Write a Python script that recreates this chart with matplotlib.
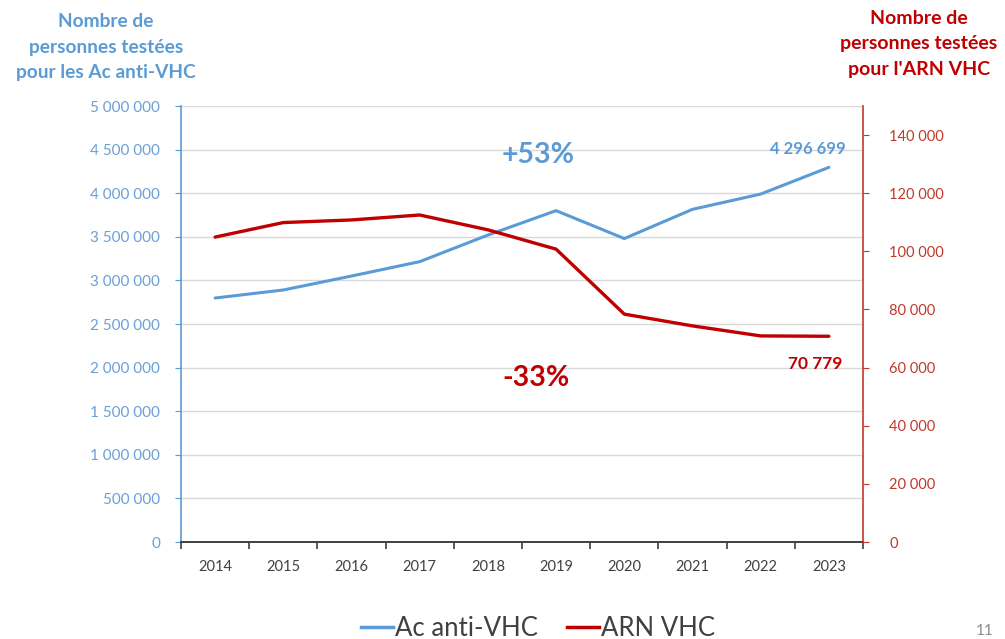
import matplotlib
matplotlib.use("Agg")
import matplotlib.pyplot as plt
from matplotlib.ticker import FuncFormatter, MultipleLocator, FixedLocator
from matplotlib.lines import Line2D

plt.rcParams['font.family'] = ['Lato', 'DejaVu Sans']

years = ["2014", "2015", "2016", "2017", "2018", "2019", "2020", "2021", "2022", "2023"]
ac_anti_vhc = [2798000, 2890000, 3050000, 3215000, 3520000, 3800000, 3480000, 3815000, 3990000, 4296699]
arn_vhc = [104900, 109900, 110800, 112500, 107400, 100750, 78400, 74350, 70900, 70779]

BLUE = "#5B9BD5"
BLUE_TXT = "#6A9FD8"
RED = "#C00000"
RED_TXT = "#C0392B"

fig = plt.figure(figsize=(10.05, 6.39), dpi=100)
ax = fig.add_axes([181/1005, 1-542/639, (863-181)/1005, (542-106)/639])
ax2 = ax.twinx()

x = list(range(len(years)))
ax.plot(x, ac_anti_vhc, color=BLUE, lw=2.2, solid_capstyle='round', zorder=3)
ax2.plot(x, arn_vhc, color=RED, lw=2.4, solid_capstyle='round', zorder=3)

ax.set_xlim(-0.5, len(years) - 0.5)
ax.set_ylim(0, 5000000)
ax2.set_ylim(0, 150000)

def spaced(v, pos):
    return f"{int(round(v)):,}".replace(",", " ")

ax.yaxis.set_major_locator(MultipleLocator(500000))
ax.yaxis.set_major_formatter(FuncFormatter(spaced))
ax2.yaxis.set_major_locator(FixedLocator([0, 20000, 40000, 60000, 80000, 100000, 120000, 140000]))
ax2.yaxis.set_major_formatter(FuncFormatter(spaced))

ax.set_xticks(x)
ax.set_xticklabels(years)
ax.set_xticks([i + 0.5 for i in range(-1, len(years))], minor=True)
ax.tick_params(axis='x', which='major', length=0, pad=13, labelsize=10.5, labelcolor="#404040")
ax.tick_params(axis='x', which='minor', length=5, width=1.2, color="#404040", direction='out')

ax.tick_params(axis='y', length=4, color=BLUE, labelcolor=BLUE_TXT, labelsize=11, pad=11)
ax2.tick_params(axis='y', length=4, color=RED_TXT, labelcolor=RED_TXT, labelsize=10.5, pad=15)

ax.grid(axis='y', color="#D9D9D9", lw=1.0, zorder=0)
ax.set_axisbelow(True)

ax.spines['top'].set_visible(False)
ax2.spines['top'].set_visible(False)
ax.spines['right'].set_visible(False)
ax2.spines['left'].set_visible(False)
ax2.spines['bottom'].set_visible(False)
ax.spines['left'].set_color(BLUE)
ax.spines['left'].set_linewidth(1.2)
ax2.spines['right'].set_color(RED_TXT)
ax2.spines['right'].set_linewidth(1.2)
ax.spines['bottom'].set_color("#404040")
ax.spines['bottom'].set_linewidth(1.4)

# annotations
ax.text(4.74, 4440000, "+53%", color=BLUE, fontsize=20.5, fontweight='bold',
        ha='center', va='center')
ax.text(9 - 0.31, 4296699 + 205000, spaced(4296699, None), color=BLUE, fontsize=12,
        fontweight='bold', ha='center', va='center')
ax2.text(4.70, 56300, "-33%", color=RED, fontsize=20.5, fontweight='bold',
         ha='center', va='center')
ax2.text(9 - 0.20, 70779 - 9600, spaced(70779, None), color=RED, fontsize=12.5,
         fontweight='bold', ha='center', va='center')

# axis titles
fig.text(106/1005, 1-47/639, "Nombre de\npersonnes testées\npour les Ac anti-VHC", color=BLUE,
         fontsize=13.8, fontweight='bold', ha='center', va='center', linespacing=1.62)
fig.text(919/1005, 1-44/639, "Nombre de\npersonnes testées\npour l'ARN VHC", color=RED,
         fontsize=14, fontweight='bold', ha='center', va='center', linespacing=1.62)

# legend
handles = [Line2D([0], [0], color=BLUE, lw=2.5), Line2D([0], [0], color=RED, lw=2.5)]
fig.legend(handles, ["Ac anti-VHC", "ARN VHC"], loc='center', bbox_to_anchor=(538/1005, 1-628/639),
           ncol=2, frameon=False, fontsize=18.5, handlelength=1.25, handletextpad=0.1,
           columnspacing=1.1, labelcolor="#404040")

fig.text(985/1005, 1-631/639, "11", color="#8C8C8C", fontsize=11, ha='center', va='center')

fig.savefig("out.png", dpi=100)
